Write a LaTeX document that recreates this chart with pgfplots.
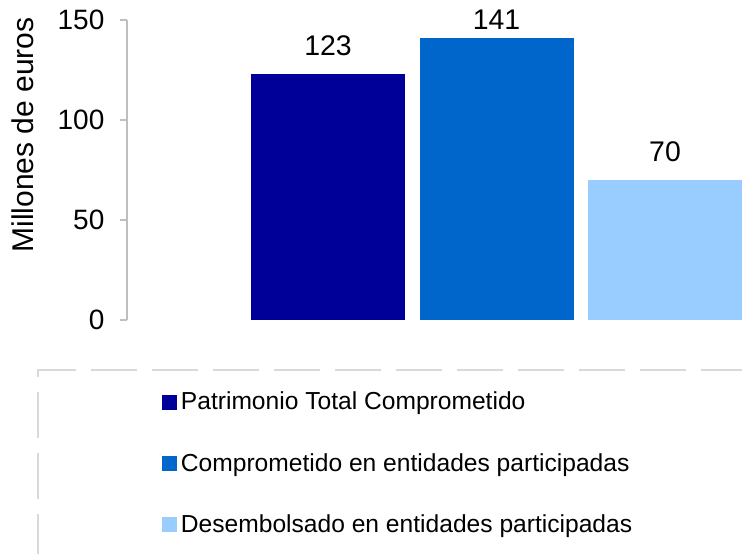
\documentclass[border=0pt]{standalone}
\usepackage{fontspec}
\setmainfont{Liberation Sans}
\usepackage{pgfplots}
\pgfplotsset{compat=1.18}
\definecolor{cA}{RGB}{0,0,153}
\definecolor{cB}{RGB}{0,102,204}
\definecolor{cC}{RGB}{153,204,255}
\definecolor{axgray}{RGB}{191,191,191}
\definecolor{leggray}{RGB}{217,217,217}
\pgfplotsset{sqlegend/.style={legend image code/.code={\fill[##1] (0pt,0pt) rectangle (7.5pt,7.5pt);}}}
\begin{document}
\begin{tikzpicture}
\path[use as bounding box] (-63.5pt,-116.5pt) rectangle (307.5pt,160pt);
\begin{axis}[
  scale only axis, width=307.5pt, height=150pt,
  xmin=-0.193, xmax=3.457, ymin=0, ymax=150,
  axis x line=none,
  axis y line=left,
  y axis line style={-, draw=axgray, line width=0.6pt},
  ytick={0,50,100,150},
  ytick style={draw=axgray, line width=0.6pt},
  tick align=outside, major tick length=3.5pt,
  /pgf/number format/assume math mode=true,
  yticklabel style={font=\fontsize{14}{16}\selectfont, xshift=-4.3pt},
  every axis y label/.style={at={(axis description cs:-0.169,0.617)}, rotate=90, anchor=center},
  ylabel={Millones de euros},
  ylabel style={font=\fontsize{15}{18}\selectfont},
  ybar, bar width=0.914,
  clip=false,
  nodes near coords,
  every node near coord/.append style={font=\fontsize{14.2}{16}\selectfont, inner sep=0pt},
  legend columns=1,
  legend style={
    at={(axis description cs:-0.1463,-0.1633)}, anchor=north west,
    draw=leggray, line width=0.9pt, dash pattern=on 23pt off 7.5pt,
    inner xsep=62pt, inner ysep=9pt,
    row sep=16.25pt,
    font=\fontsize{12.3}{14}\selectfont,
    cells={anchor=base west},
  },
]
\addplot[sqlegend, fill=cA, draw=none, bar shift=0pt,
  every node near coord/.append style={yshift=9pt}] coordinates {(1,123)};
\addplot[sqlegend, fill=cB, draw=none, bar shift=0pt,
  every node near coord/.append style={yshift=4.2pt}] coordinates {(2,141)};
\addplot[sqlegend, fill=cC, draw=none, bar shift=0pt,
  every node near coord/.append style={yshift=8.7pt}] coordinates {(3,70)};
\legend{\makebox[300pt][l]{Patrimonio Total Comprometido}, Comprometido en entidades participadas, Desembolsado en entidades participadas\rule[-16pt]{0pt}{0pt}}
\end{axis}
\end{tikzpicture}
\end{document}
